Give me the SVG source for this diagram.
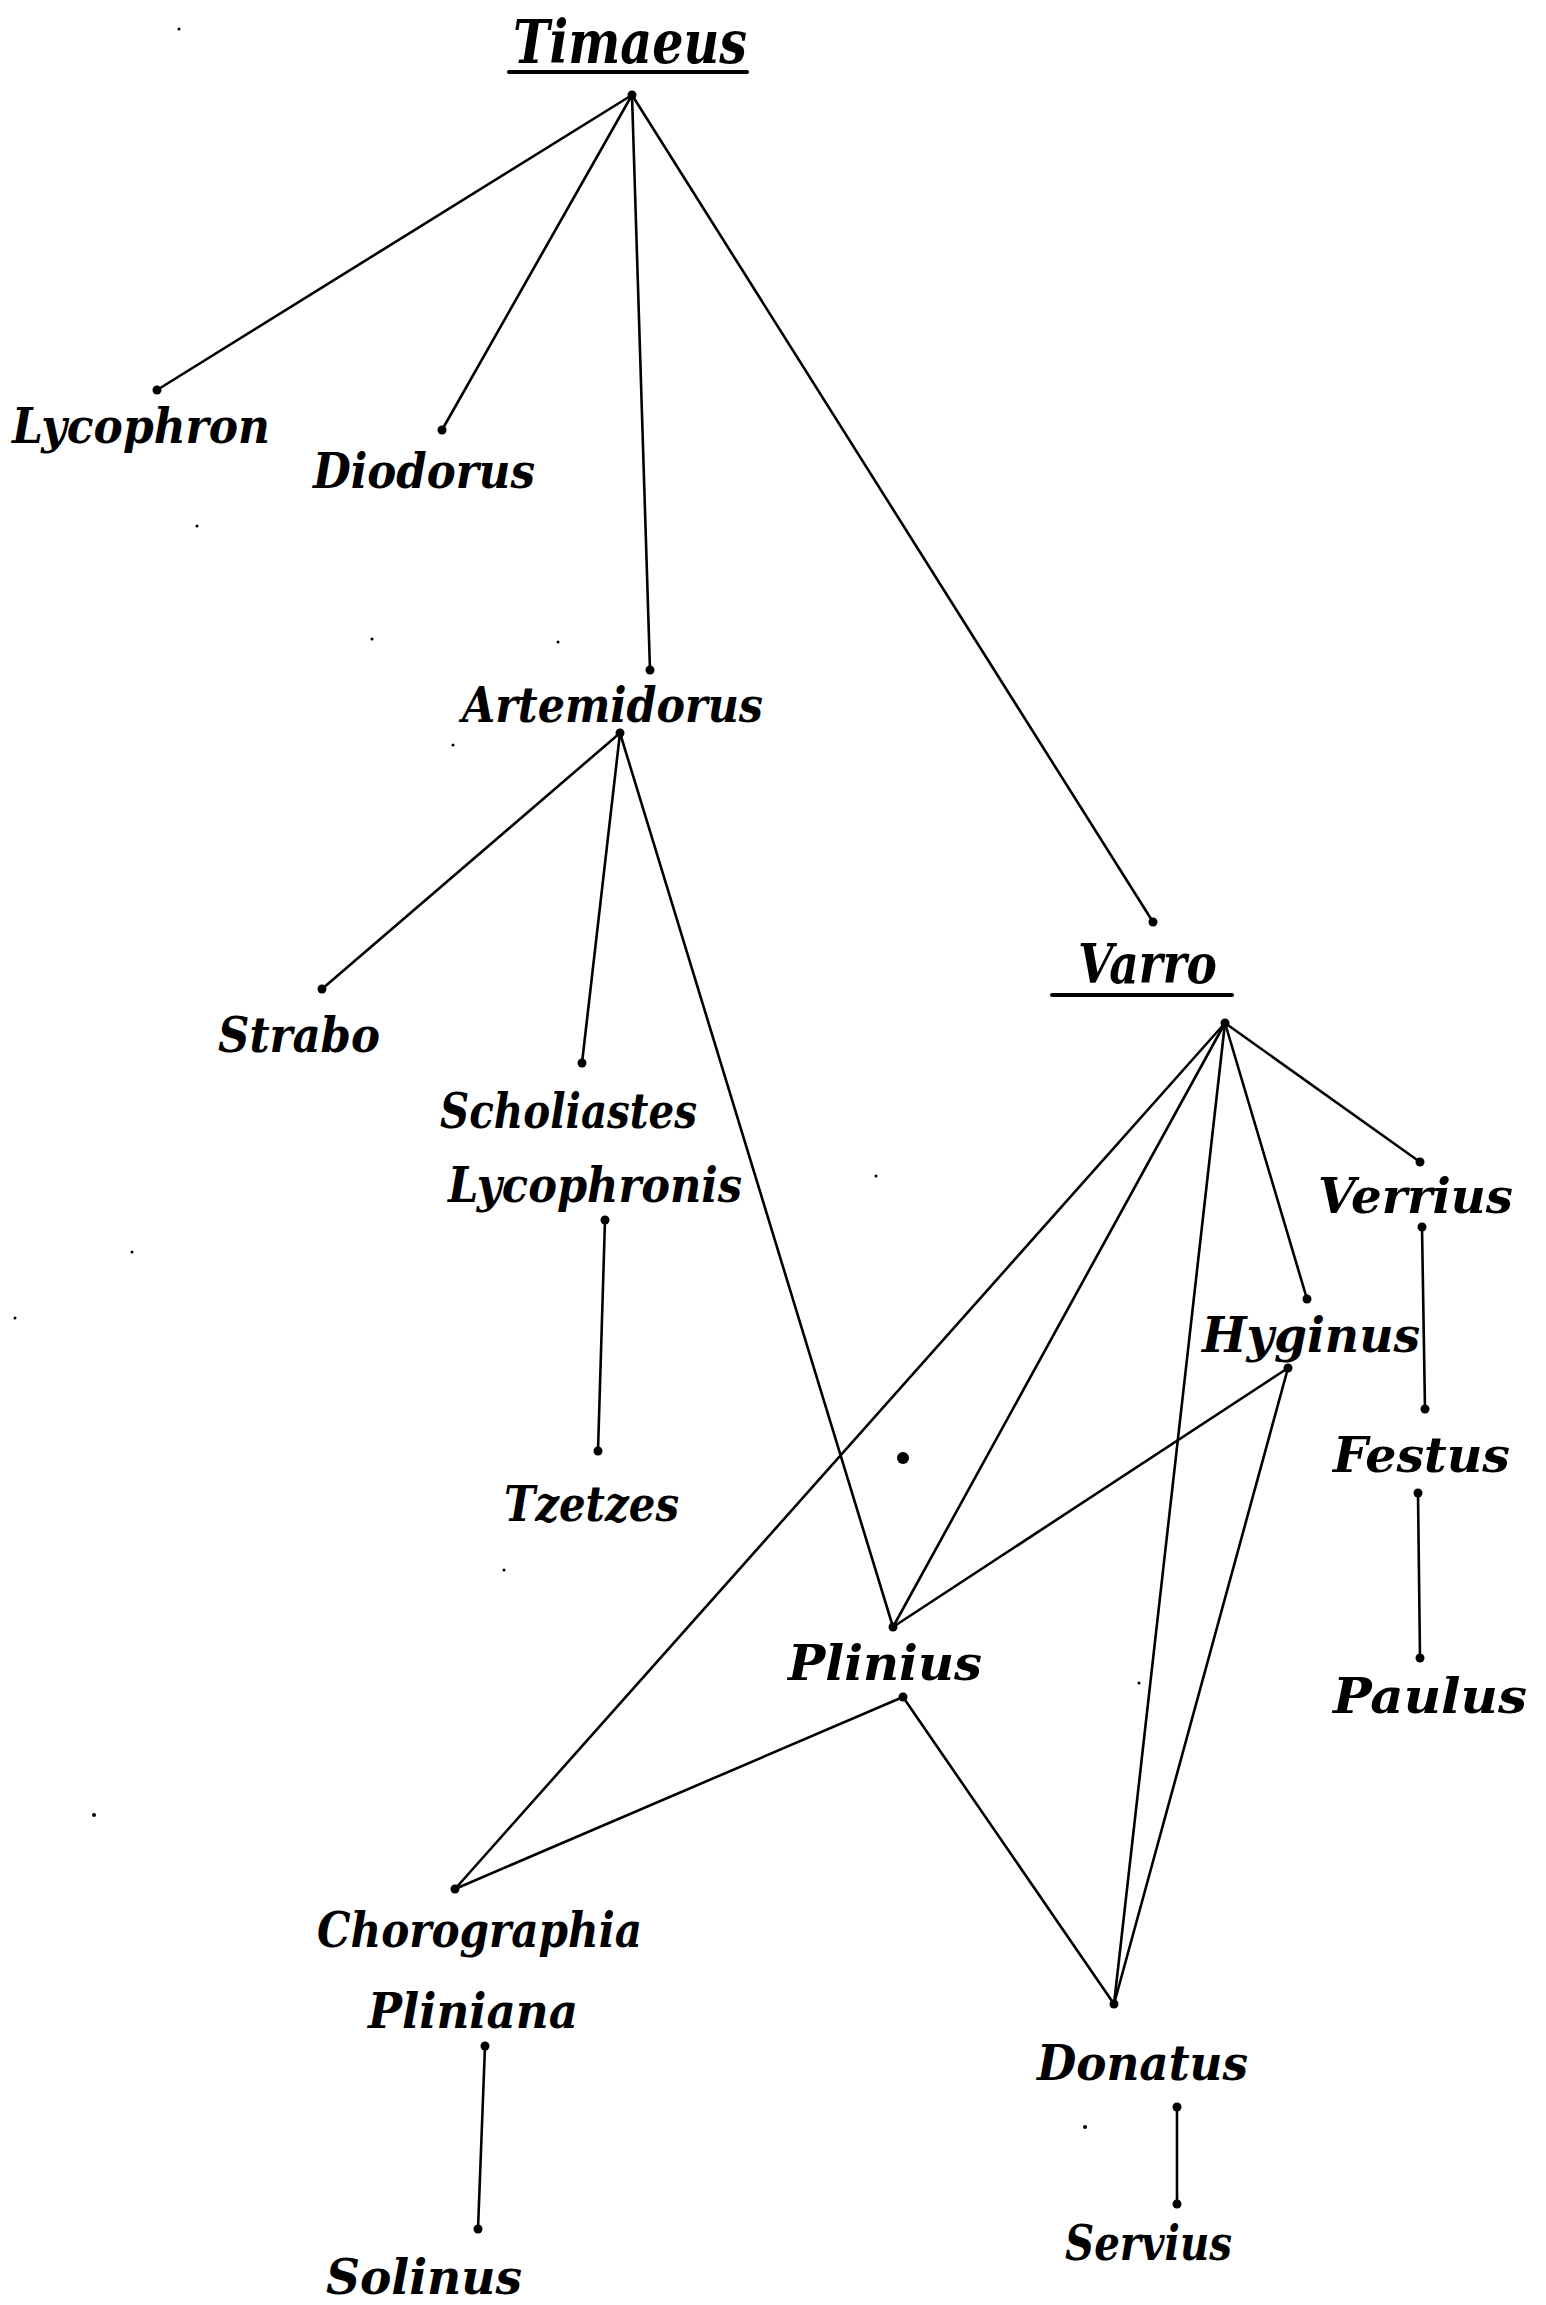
<svg xmlns="http://www.w3.org/2000/svg" width="1546" height="2305" viewBox="0 0 1546 2305">
<style>
text{font-family:"DejaVu Serif","Liberation Serif",serif;font-weight:bold;font-style:italic;font-size:48px;fill:#000}
.big{font-size:60px}
.mid{font-size:54px}
line{stroke:#000;stroke-width:2.6;stroke-linecap:round}
.ul{stroke-width:4}
circle{fill:#000}
</style>
<rect width="1546" height="2305" fill="#fff"/>
<g id="connectors">
<line x1="632" y1="95" x2="157" y2="390"/>
<line x1="632" y1="95" x2="442" y2="430"/>
<line x1="632" y1="95" x2="650" y2="670"/>
<line x1="632" y1="95" x2="1153" y2="922"/>
<line x1="620" y1="733" x2="322" y2="989"/>
<line x1="620" y1="733" x2="582" y2="1063"/>
<line x1="620" y1="733" x2="893" y2="1627"/>
<line x1="605" y1="1220" x2="598" y2="1451"/>
<line x1="1225" y1="1023" x2="455" y2="1889"/>
<line x1="1225" y1="1023" x2="893" y2="1627"/>
<line x1="1225" y1="1023" x2="1114" y2="2004"/>
<line x1="1225" y1="1023" x2="1307" y2="1299"/>
<line x1="1225" y1="1023" x2="1420" y2="1162"/>
<line x1="1422" y1="1227" x2="1425" y2="1409"/>
<line x1="1418" y1="1493" x2="1420" y2="1658"/>
<line x1="1288" y1="1368" x2="893" y2="1627"/>
<line x1="1288" y1="1368" x2="1114" y2="2004"/>
<line x1="903" y1="1697" x2="455" y2="1889"/>
<line x1="903" y1="1697" x2="1114" y2="2004"/>
<line x1="485" y1="2046" x2="478" y2="2229"/>
<line x1="1177" y1="2107" x2="1177" y2="2204"/>
</g>
<g id="dots">
<circle cx="632" cy="95" r="4.5"/>
<circle cx="157" cy="390" r="4.5"/>
<circle cx="442" cy="430" r="4.5"/>
<circle cx="650" cy="670" r="4.5"/>
<circle cx="620" cy="733" r="4.5"/>
<circle cx="1153" cy="922" r="4.5"/>
<circle cx="1225" cy="1023" r="4.5"/>
<circle cx="322" cy="989" r="4.5"/>
<circle cx="582" cy="1063" r="4.5"/>
<circle cx="605" cy="1220" r="4.5"/>
<circle cx="598" cy="1451" r="4.5"/>
<circle cx="1420" cy="1162" r="4.5"/>
<circle cx="1422" cy="1227" r="4.5"/>
<circle cx="1307" cy="1299" r="4.5"/>
<circle cx="1288" cy="1368" r="4.5"/>
<circle cx="1425" cy="1409" r="4.5"/>
<circle cx="1418" cy="1493" r="4.5"/>
<circle cx="1420" cy="1658" r="4.5"/>
<circle cx="893" cy="1627" r="4.5"/>
<circle cx="903" cy="1697" r="4.5"/>
<circle cx="455" cy="1889" r="4.5"/>
<circle cx="485" cy="2046" r="4.5"/>
<circle cx="478" cy="2229" r="4.5"/>
<circle cx="1114" cy="2004" r="4.5"/>
<circle cx="1177" cy="2107" r="4.5"/>
<circle cx="1177" cy="2204" r="4.5"/>
<circle cx="903" cy="1458" r="6"/>
<circle cx="179" cy="29" r="1.5"/>
<circle cx="197" cy="526" r="1.5"/>
<circle cx="372" cy="639" r="1.5"/>
<circle cx="558" cy="642" r="1.5"/>
<circle cx="453" cy="745" r="1.5"/>
<circle cx="876" cy="1176" r="1.5"/>
<circle cx="132" cy="1252" r="1.5"/>
<circle cx="15" cy="1318" r="1.5"/>
<circle cx="504" cy="1570" r="1.5"/>
<circle cx="94" cy="1815" r="2"/>
<circle cx="1139" cy="1683" r="1.5"/>
<circle cx="1085" cy="2127" r="2"/>
</g>
<g id="node-timaeus"><text class="big" x="513" y="63" textLength="234" lengthAdjust="spacingAndGlyphs">Timaeus</text><line class="ul" x1="509" y1="72" x2="747" y2="72"/></g>
<g id="node-lycophron"><text x="12" y="443" textLength="258" lengthAdjust="spacingAndGlyphs">Lycophron</text></g>
<g id="node-diodorus"><text x="313" y="488" textLength="222" lengthAdjust="spacingAndGlyphs">Diodorus</text></g>
<g id="node-artemidorus"><text x="462" y="722" textLength="301" lengthAdjust="spacingAndGlyphs">Artemidorus</text></g>
<g id="node-strabo"><text x="218" y="1052" textLength="162" lengthAdjust="spacingAndGlyphs">Strabo</text></g>
<g id="node-scholiastes"><text x="440" y="1128" textLength="257" lengthAdjust="spacingAndGlyphs">Scholiastes</text><text x="448" y="1202" textLength="294" lengthAdjust="spacingAndGlyphs">Lycophronis</text></g>
<g id="node-tzetzes"><text x="504" y="1521" textLength="175" lengthAdjust="spacingAndGlyphs">Tzetzes</text></g>
<g id="node-varro"><text class="mid" x="1078" y="983" textLength="139" lengthAdjust="spacingAndGlyphs">Varro</text><line class="ul" x1="1052" y1="995" x2="1232" y2="995"/></g>
<g id="node-verrius"><text x="1318" y="1213" textLength="195" lengthAdjust="spacingAndGlyphs">Verrius</text></g>
<g id="node-hyginus"><text x="1202" y="1352" textLength="218" lengthAdjust="spacingAndGlyphs">Hyginus</text></g>
<g id="node-festus"><text x="1333" y="1472" textLength="177" lengthAdjust="spacingAndGlyphs">Festus</text></g>
<g id="node-paulus"><text x="1333" y="1713" textLength="194" lengthAdjust="spacingAndGlyphs">Paulus</text></g>
<g id="node-plinius"><text x="788" y="1680" textLength="194" lengthAdjust="spacingAndGlyphs">Plinius</text></g>
<g id="node-chorographia"><text x="317" y="1947" textLength="325" lengthAdjust="spacingAndGlyphs">Chorographia</text><text x="368" y="2028" textLength="210" lengthAdjust="spacingAndGlyphs">Pliniana</text></g>
<g id="node-solinus"><text x="326" y="2294" textLength="196" lengthAdjust="spacingAndGlyphs">Solinus</text></g>
<g id="node-donatus"><text x="1037" y="2080" textLength="211" lengthAdjust="spacingAndGlyphs">Donatus</text></g>
<g id="node-servius"><text x="1065" y="2260" textLength="167" lengthAdjust="spacingAndGlyphs">Servius</text></g>
</svg>
